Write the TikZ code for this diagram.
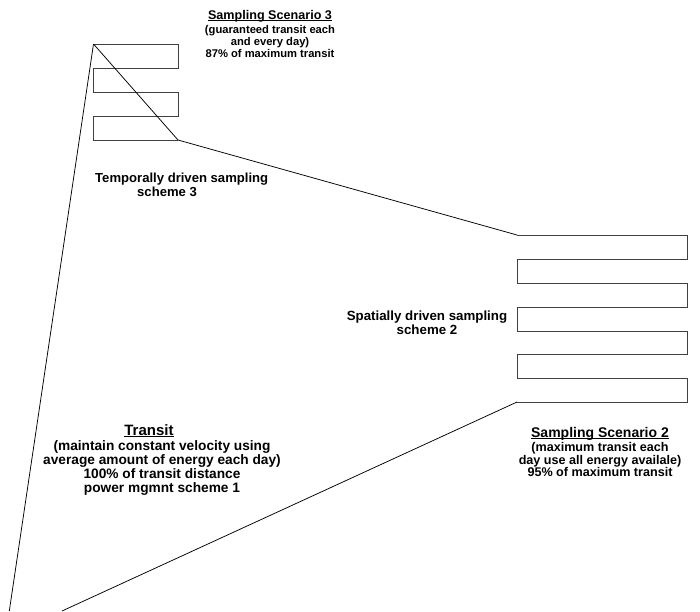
\documentclass[tikz,border=0pt]{standalone}
\usepackage{fontspec}
\setmainfont{Liberation Sans}
\newcommand\myul[1]{\setbox0\hbox{#1}\rlap{\rule[-1.5pt]{\wd0}{0.9pt}}\box0}
\begin{document}
\begin{tikzpicture}[x=1pt,y=-1pt,
  serp/.style={draw=black!75, line width=0.7pt, line join=miter},
  link/.style={draw=black, line width=0.75pt},
  lbl/.style={font=\bfseries, align=center, inner sep=0pt}]
\useasboundingbox (0,0) rectangle (700,611);
% named corner coordinates
\coordinate (s3tl) at (93.5,44);
\coordinate (s3br) at (178,140);
\coordinate (s2tl) at (517,235);
\coordinate (s2bl) at (517,402);
\coordinate (o1) at (9.3,611);
\coordinate (o2) at (62,611);
% serpentine of scenario 3
\draw[serp] (s3tl) -- (178,44) -- (178,68) -- (93.5,68) -- (93.5,92) -- (178,92)
  -- (178,116) -- (93.5,116) -- (93.5,140) -- (s3br);
% serpentine of scenario 2
\draw[serp] (s2tl) -- (687,235) -- (687,259) -- (517,259) -- (517,283) -- (687,283)
  -- (687,307) -- (517,307) -- (517,331) -- (687,331) -- (687,354.5) -- (517,354.5)
  -- (517,378) -- (687,378) -- (687,402) -- (s2bl);
% connecting lines
\draw[link] (s3tl) -- (o1);
\draw[link] (s3tl) -- (s3br);
\draw[link] (s3br) -- (s2tl);
\draw[link] (s2bl) -- (o2);
% labels
\node[lbl, anchor=north, font=\bfseries\fontsize{11.2}{12}\selectfont] (sc3) at (270,10.5)
  {{\fontsize{12.6}{12}\selectfont\myul{Sampling Scenario 3}}\\[1.2pt]
   (guaranteed transit each\\ and every day)\\ 87\% of maximum transit};
\node[lbl, align=left, anchor=north west, font=\bfseries\fontsize{13.1}{14}\selectfont] (tmp) at (95,173)
  {Temporally driven sampling\\ \hspace*{42pt}scheme 3};
\node[lbl, anchor=north, font=\bfseries\fontsize{13.3}{14}\selectfont] (spa) at (427,311)
  {Spatially driven sampling\\ scheme 2};
\node[lbl, anchor=north, font=\bfseries\fontsize{13.7}{14}\selectfont] (tra) at (162,424.5)
  {{\fontsize{15}{14}\selectfont\myul{Transit}}\hspace*{26pt}\\[1pt]
   (maintain constant velocity using\\ average amount of energy each day)\\
   100\% of transit distance\\ power mgmnt scheme 1};
\node[lbl, anchor=north, font=\bfseries\fontsize{12.6}{12.4}\selectfont] (sc2) at (600,427)
  {{\fontsize{14}{12.4}\selectfont\myul{Sampling Scenario 2}}\\[2pt]
   (maximum transit each\\ day use all energy availale)\\ 95\% of maximum transit};
\end{tikzpicture}
\end{document}
